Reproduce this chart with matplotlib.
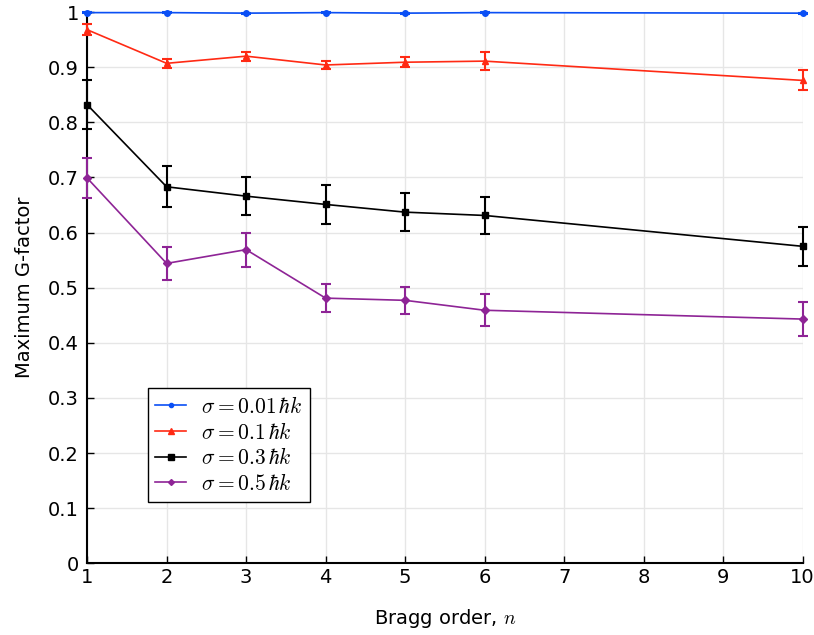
import numpy as np
import matplotlib
matplotlib.use("Agg")
import matplotlib.pyplot as plt
from matplotlib.lines import Line2D

plt.rcParams['font.family'] = ['DejaVu Sans']
plt.rcParams['mathtext.fontset'] = 'cm'

# Bragg orders
orders = [1, 2, 3, 4, 5, 6, 10]

# Maximum G-factor for each momentum width
g_001 = [0.999, 0.999, 0.998, 0.999, 0.998, 0.999, 0.998]
e_001 = [0.001, 0.001, 0.001, 0.001, 0.001, 0.001, 0.001]

g_01 = [0.968, 0.907, 0.920, 0.904, 0.909, 0.911, 0.876]
e_01 = [0.010, 0.008, 0.008, 0.008, 0.009, 0.017, 0.018]

g_03 = [0.832, 0.683, 0.666, 0.651, 0.637, 0.631, 0.575]
e_03 = [0.044, 0.037, 0.035, 0.035, 0.034, 0.033, 0.035]

g_05 = [0.699, 0.544, 0.569, 0.481, 0.477, 0.459, 0.443]
e_05 = [0.037, 0.030, 0.031, 0.026, 0.025, 0.029, 0.031]

labels = [r'$\sigma = 0.01\,\hbar k$', r'$\sigma = 0.1\,\hbar k$',
          r'$\sigma = 0.3\,\hbar k$', r'$\sigma = 0.5\,\hbar k$']

fig = plt.figure(figsize=(8.14, 6.35), dpi=100)
ax = fig.add_axes([0.107, 0.113, 0.879, 0.868])

series = [
    (g_001, e_001, '#0a4ff5', 'o', 4),
    (g_01, e_01, '#ff2a14', '^', 5),
    (g_03, e_03, 'black', 's', 5),
    (g_05, e_05, '#8e2496', 'D', 4),
]
handles = []
for (g, e, c, m, ms), lab in zip(series, labels):
    ax.errorbar(orders, g, yerr=e, color=c, marker=m, markersize=ms,
                linewidth=1.2, elinewidth=1.5, capsize=3.5, capthick=1.5,
                clip_on=False, zorder=3)
    handles.append(Line2D([], [], color=c, marker=m, markersize=ms - 1,
                          linewidth=1.2, label=lab))

ax.set_xlim(1, 10)
ax.set_ylim(0, 1)
ax.set_xticks(range(1, 11))
ax.set_yticks(np.arange(0, 1.01, 0.1))
ax.set_yticklabels(['0', '0.1', '0.2', '0.3', '0.4', '0.5', '0.6', '0.7', '0.8', '0.9', '1'])
ax.grid(True, color='#e6e6e6', linewidth=1)
ax.set_axisbelow(True)
for s in ['top', 'right']:
    ax.spines[s].set_visible(False)
ax.spines['left'].set_linewidth(1.5)
ax.spines['bottom'].set_linewidth(1.5)
ax.tick_params(direction='in', labelsize=14, length=5, width=1)
ax.tick_params(axis='y', pad=6)

ax.set_xlabel(r'Bragg order, $n$', fontsize=14, labelpad=14)
ax.set_ylabel('Maximum G-factor', fontsize=14, labelpad=10)

leg = ax.legend(handles=handles, loc='upper left', bbox_to_anchor=(0.07, 0.337),
                fontsize=15.5, fancybox=False, edgecolor='black', framealpha=1,
                handlelength=1.4, borderpad=0.35, labelspacing=0.22,
                handletextpad=0.7)
leg.get_frame().set_linewidth(1)

fig.savefig('out.png', dpi=100)
